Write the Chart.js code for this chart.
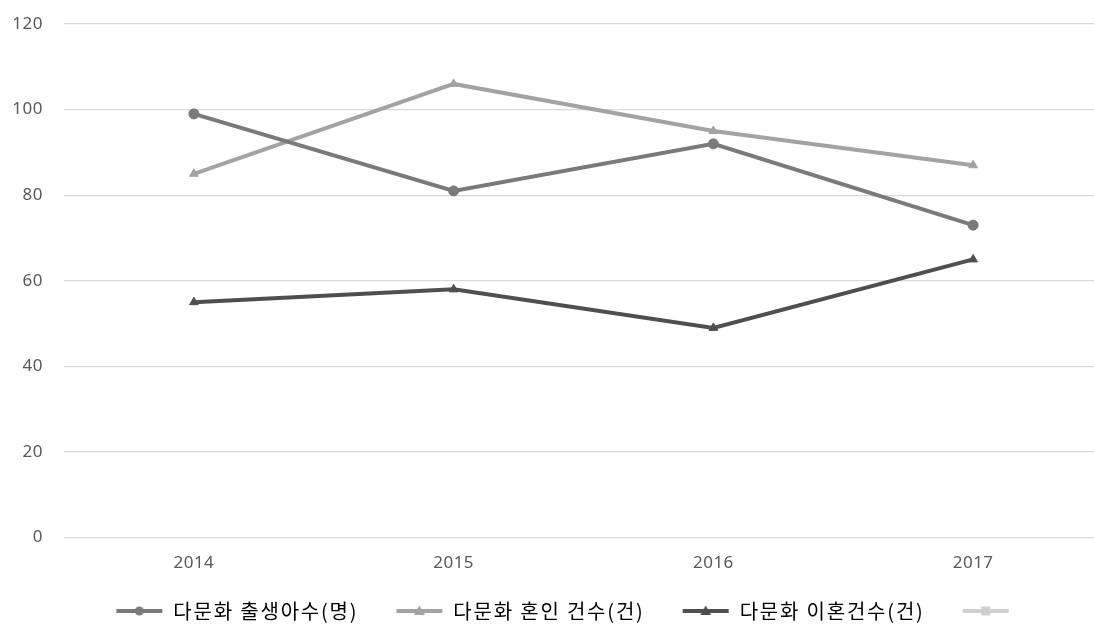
<!DOCTYPE html>
<html>
<head>
<meta charset="utf-8">
<script src="https://cdn.jsdelivr.net/npm/chart.js@4.4.0/dist/chart.umd.min.js"></script>
<style>
html,body{margin:0;padding:0;background:#fff;overflow:hidden;width:1094px;height:625px;}
#wrap{width:1094px;height:625px;overflow:hidden;position:relative;}
canvas{display:block;}
</style>
</head>
<body>
<div id="wrap"><canvas id="c" width="1103" height="625"></canvas></div>
<script>
const categories = ['2014', '2015', '2016', '2017'];
const births = [99, 81, 92, 73];
const marriages = [85, 106, 95, 87];
const divorces = [55, 58, 49, 65];
const extra = [null, null, null, null];
const yTicks = [0, 20, 40, 60, 80, 100, 120];

const seriesNames = ['다문화 출생아수(명)', '다문화 혼인 건수(건)', '다문화 이혼건수(건)', ''];
const seriesColors = ['#7a7a7a', '#a3a3a3', '#4f4f4f', '#cfcfcf'];
const seriesMarkers = ['circle', 'triangle', 'triangle', 'rect'];

const ICON_GAP = 32;
function legendIcon(color, marker) {
  const c = document.createElement('canvas');
  c.width = 48 + ICON_GAP; c.height = 14;
  const x = c.getContext('2d');
  const o = ICON_GAP;
  x.strokeStyle = color; x.fillStyle = color; x.lineWidth = 4;
  x.beginPath(); x.moveTo(o + 1, 7); x.lineTo(o + 47, 7); x.stroke();
  x.beginPath();
  if (marker === 'circle') { x.arc(o + 24, 7, 4.5, 0, Math.PI * 2); }
  else if (marker === 'triangle') { x.moveTo(o + 24, 1.5); x.lineTo(o + 29.5, 11); x.lineTo(o + 18.5, 11); x.closePath(); }
  else { x.rect(o + 19.5, 2.5, 9, 9); }
  x.fill();
  return c;
}

const dataArrays = [births, marriages, divorces, extra];
const datasets = dataArrays.map((d, i) => ({
  label: seriesNames[i],
  data: d,
  borderColor: seriesColors[i],
  backgroundColor: seriesColors[i],
  borderWidth: 4,
  pointStyle: seriesMarkers[i],
  pointRadius: 5,
  pointBackgroundColor: seriesColors[i],
  pointBorderColor: seriesColors[i],
  pointBorderWidth: 1,
  tension: 0,
  fill: false
}));

const spacingPlugin = {
  id: 'spacing',
  afterInit(chart) {
    const L = chart.legend;
    if (!L) return;
    const ctx = chart.ctx;
    const of = L.fit.bind(L), od = L.draw.bind(L);
    L.fit = function () { const p = ctx.letterSpacing; ctx.letterSpacing = '1.8px'; of(); ctx.letterSpacing = p; };
    L.draw = function (a) {
      const p = ctx.letterSpacing; ctx.letterSpacing = '1.8px';
      ctx.save(); ctx.translate(0, 8); od(a); ctx.restore();
      ctx.letterSpacing = p;
    };
  },
  beforeUpdate(chart) { chart.ctx.letterSpacing = '0.5px'; },
  beforeDraw(chart) { chart.ctx.letterSpacing = '0.5px'; }
};

new Chart(document.getElementById('c'), {
  type: 'line',
  data: { labels: categories, datasets: datasets },
  plugins: [spacingPlugin],
  options: {
    responsive: false,
    animation: false,
    devicePixelRatio: 1,
    layout: { autoPadding: false, padding: { top: 24, left: 0, right: 0, bottom: 2 } },
    scales: {
      x: {
        offset: true,
        afterFit: (axis) => { axis.paddingLeft = 0; axis.paddingRight = 0; },
        grid: { display: false, drawTicks: false },
        border: { display: false },
        ticks: { color: '#595959', font: { family: 'Noto Sans', size: 17 }, padding: 15 }
      },
      y: {
        min: 0, max: 120,
        afterBuildTicks: (axis) => { axis.ticks = yTicks.map(v => ({ value: v })); },
        afterFit: (axis) => { axis.width = 64; axis.paddingTop = 0; },
        grid: { color: '#d9d9d9', lineWidth: 1.2, drawTicks: false },
        border: { display: false },
        ticks: { color: '#595959', font: { family: 'Noto Sans', size: 17 }, padding: 21 }
      }
    },
    plugins: {
      tooltip: { enabled: false },
      legend: {
        position: 'bottom',
        labels: {
          usePointStyle: true,
          pointStyleWidth: 48 + ICON_GAP,
          padding: 5,
          color: '#595959',
          font: { family: 'Noto Sans CJK KR', size: 20 },
          generateLabels: (chart) => chart.data.datasets.map((ds, i) => ({
            text: ds.label,
            pointStyle: legendIcon(seriesColors[i], seriesMarkers[i]),
            fillStyle: seriesColors[i],
            strokeStyle: seriesColors[i],
            lineWidth: 0,
            hidden: false,
            datasetIndex: i
          }))
        }
      }
    }
  }
});
</script>
</body>
</html>
